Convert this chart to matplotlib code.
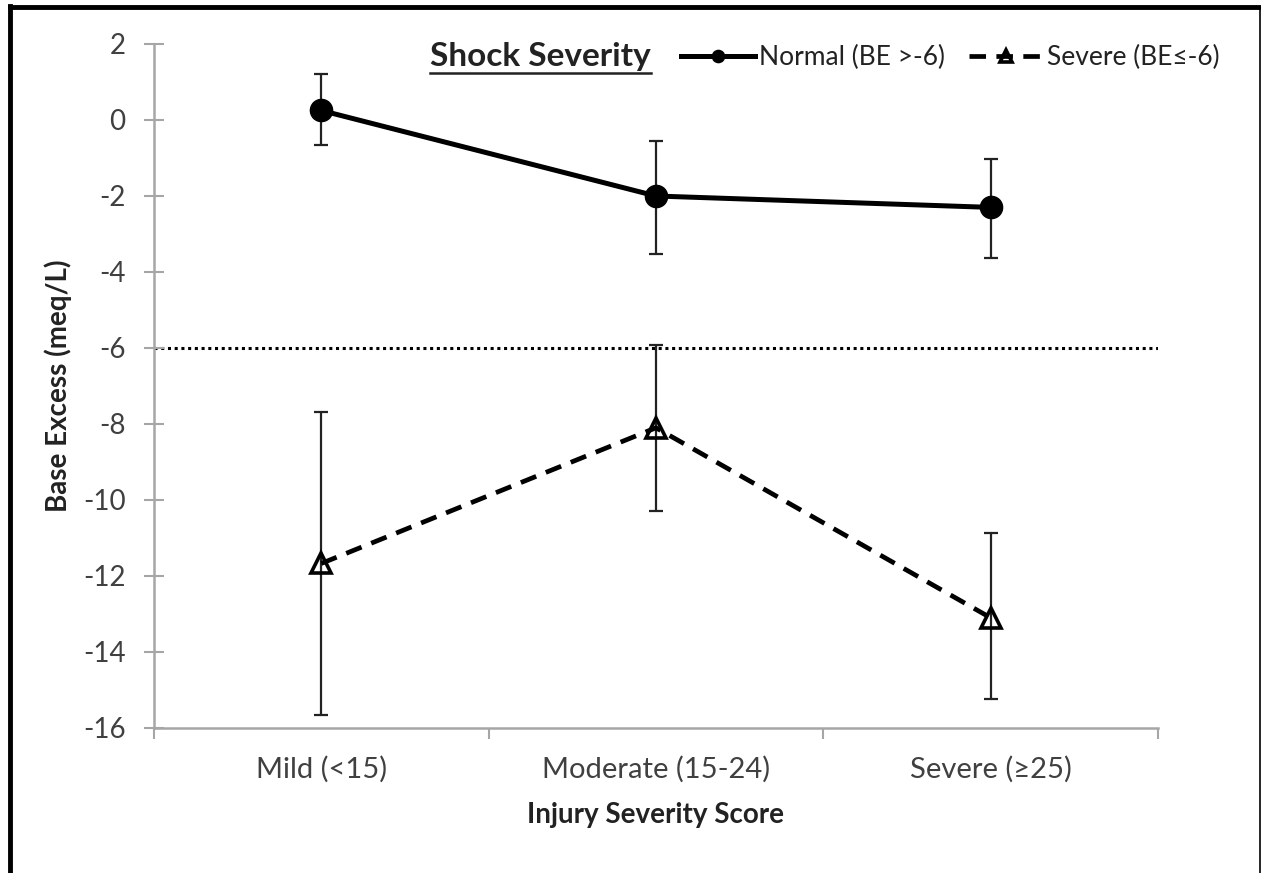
import numpy as np
import matplotlib.pyplot as plt
from matplotlib.lines import Line2D

plt.rcParams['font.family'] = ['Lato', 'DejaVu Sans']
plt.rcParams['axes.unicode_minus'] = False

# Data
categories = ['Mild (<15)', 'Moderate (15-24)', 'Severe (≥25)']
normal_mean = [0.25, -2.0, -2.3]
normal_upper = [1.2, -0.55, -1.03]
normal_lower = [-0.65, -3.52, -3.62]
severe_mean = [-11.67, -8.1, -13.1]
severe_upper = [-7.68, -5.92, -10.87]
severe_lower = [-15.65, -10.3, -15.25]
threshold = -6

x = np.arange(len(categories))
gray = '#a6a6a6'
txt = '#404040'

fig = plt.figure(figsize=(12.61, 8.73), dpi=100)
ax = fig.add_axes([0.1221, 0.1661, 0.7962, 0.7835])

# Threshold line
ax.axhline(threshold, color='black', linestyle=(0, (1, 1.2)), linewidth=2.2, zorder=1)

nm = np.array(normal_mean)
sm = np.array(severe_mean)
err_n = [nm - np.array(normal_lower), np.array(normal_upper) - nm]
err_s = [sm - np.array(severe_lower), np.array(severe_upper) - sm]

ax.errorbar(x, nm, yerr=err_n, fmt='none', ecolor='#222222', elinewidth=1.6,
            capsize=5, capthick=1.6, zorder=2)
ax.errorbar(x, sm, yerr=err_s, fmt='none', ecolor='#222222', elinewidth=1.6,
            capsize=5, capthick=1.6, zorder=2)

ax.plot(x, nm, color='black', linewidth=3.6, marker='o', markersize=16,
        label='Normal (BE >-6)', zorder=3)
ax.plot(x, sm, color='black', linewidth=3.4, linestyle=(0, (3.5, 2.2)),
        marker='^', markersize=15, markerfacecolor='none', markeredgewidth=2.6,
        label='Severe (BE\u2264-6)', zorder=3)

ax.set_xlim(-0.5, 2.5)
ax.set_ylim(-16, 2)
ax.set_yticks(np.arange(-16, 3, 2))
ax.set_xticks([-0.5, 0.5, 1.5, 2.5])
ax.set_xticklabels([])
ax.set_xticks(x, minor=True)
ax.set_xticklabels(categories, minor=True)

for s in ['top', 'right']:
    ax.spines[s].set_visible(False)
for s in ['left', 'bottom']:
    ax.spines[s].set_color(gray)
    ax.spines[s].set_linewidth(1.8)

ax.tick_params(axis='y', direction='inout', length=15, width=1.5, color=gray,
               labelsize=20, labelcolor=txt, pad=13)
ax.tick_params(axis='x', which='major', direction='out', length=8, width=1.5,
               color=gray)
ax.tick_params(axis='x', which='minor', length=0, labelsize=21,
               labelcolor=txt, pad=20)

ax.set_ylabel('Base Excess (meq/L)', fontsize=20, fontweight='bold',
              color='#222222', labelpad=8)
ax.set_xlabel('Injury Severity Score', fontsize=20, fontweight='bold',
              color='#222222', labelpad=14)

# Legend
leg = ax.legend(loc='center right', bbox_to_anchor=(0.967, 0.9336),
                bbox_transform=fig.transFigure, borderaxespad=0, borderpad=0,
                ncol=2, frameon=False, fontsize=19, handlelength=2.8,
                handletextpad=0.15, columnspacing=0.9, markerscale=0.55,
                labelcolor='#222222')
title = fig.text(430 / 1261, 1 - 66 / 873, 'Shock Severity', fontsize=24,
                 fontweight='bold', color='#222222', ha='left', va='baseline')
fig.canvas.draw()
bb = title.get_window_extent().transformed(fig.transFigure.inverted())
fig.add_artist(Line2D([bb.x0, bb.x1], [1 - 73 / 873, 1 - 73 / 873],
                      color='#222222', linewidth=1.8))

# Frame around figure (top and left heavy, right thin)
fig.add_artist(Line2D([0.0079, 0.9995], [0.9915, 0.9915], color='black',
                      linewidth=3.5))
fig.add_artist(Line2D([0.0079, 0.0079], [0.0, 0.9935], color='black',
                      linewidth=3.5))
fig.add_artist(Line2D([0.9992, 0.9992], [0.0, 0.9915], color='black',
                      linewidth=1.2))

fig.savefig('out.png', dpi=100)
